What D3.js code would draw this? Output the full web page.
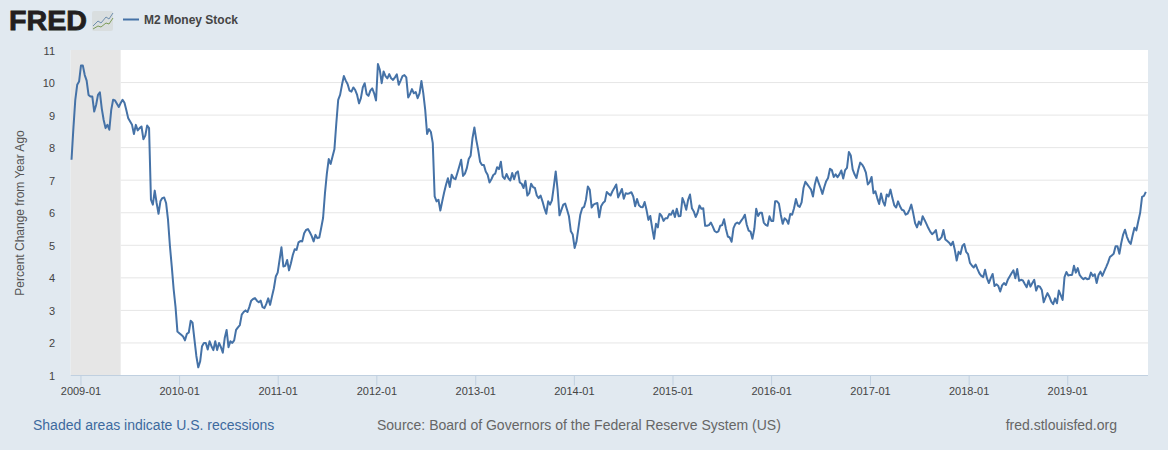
<!DOCTYPE html>
<html><head><meta charset="utf-8">
<script src="https://cdn.jsdelivr.net/npm/d3@7"></script>
<style>html,body{margin:0;padding:0;background:#e1e9f0}svg{display:block;font-family:"Liberation Sans",Arial,sans-serif}</style>
</head><body><svg id="c" width="1168" height="450"></svg>
<script>
const seriesName="M2 Money Stock";
const yTitle="Percent Change from Year Ago";
const yTicks=[1,2,3,4,5,6,7,8,9,10,11];
const xTickLabels=["2009-01","2010-01","2011-01","2012-01","2013-01","2014-01","2015-01","2016-01","2017-01","2018-01","2019-01"];
const recession=["2008-11-24","2009-05-28"];
const firstWeek="2008-11-27";
const weeksA=0, valuesA=[7.63,8.6,9.47,9.93,10.03,10.52,10.52,10.23,10.06,9.62,9.57,9.57,9.11,9.31,9.62,9.70,9.2,8.85,8.6,8.7,8.55,9.16,9.47,9.45,9.35,9.25,9.37,9.47,9.38,9.15,8.9,8.8,8.7,8.42,8.7,8.53,8.6,8.65,8.26,8.37,8.68,8.6,6.4,6.25,6.68,6.3,5.97,6.35,6.45,6.47,6.3,5.8];
const weeksB=52, valuesB=[5,4.35,3.65,3.1,2.35,2.3,2.25,2.2,2.08,2.28,2.32,2.68,2.62,2.1,1.6,1.25,1.43,1.9,2.0,2.0,1.8,2.05,1.9,1.78,2.05,1.78,2.0,1.87,1.7,2.15,2.4,1.87,2.05,2.0,2.08,2.4,2.48,2.55,2.87,2.95,3.0,2.95,3.1,3.3,3.35,3.38,3.3,3.25,3.3,3.1,3.07,3.2,3.37,3.17,3.43,3.68,4.04,4.16,4.55,4.94,4.35,4.37,4.55,4.23,4.45,4.7,4.88,4.86,5.09,5.13,5.12,5.37,5.47,5.5,5.4,5.28,5.12,5.32,5.22,5.24];
const weeksC=132, valuesC=[5.53,5.84,6.6,7.2,7.65,7.5,7.73,7.95,8.75,9.47,9.62,9.93,10.2,10.06,9.95,9.75,9.72,9.85,9.77,9.62,9.36,9.52,9.85,9.98,9.65,9.59,9.75,9.82,9.67,9.45,10.57,10.39,9.98,10.34,10.2,10.13,10.26,10.13,10.08,10.16,10.25,9.93,10.06,10.2,10.23,10.16,9.54,9.65,9.8,9.67,9.71,9.52,9.67,10.05,9.67,9.16,8.42,8.57,8.48,8.14,6.5,6.35,6.4,6.07,6.35,6.62,6.86,7.06,6.79,7.17,7.06,7.03,7.22,7.42,7.63,7.13,7.2,7.37,7.65,7.75,8.29,8.62,8.24,7.93,7.57,7.47,7.47,7.27,7.17,6.93,7.03,7.16,7.2,7.4,7.34,7.57,7.11,7.04,7.19,7.06,6.99,7.22,7.03,7.22,7.27,6.93,6.89,6.76,6.98,6.53,6.6,6.89,6.79,6.76,6.53,6.45,6.53,6.35,6.14,5.97,6.35,6.25,6.38,6.81,7.27,6.7,5.92,6.09,6.25,6.28,6.09,5.89,5.43,5.33,4.92,5.12,5.53,5.94];
const weeksD=270, valuesD=[6.14,6.18,6.4,6.81,6.71,6.16,6.25,6.28,6.3,5.86,6.2,6.3,6.35,6.64,6.58,6.53,6.66,6.76,6.87,6.47,6.6,6.73,6.43,6.6,6.58,6.6,6.63,6.5,6.2,6.42,6.23,6.18,6.17,6.33,6.09,5.78,5.9,5.53,5.2,5.66,5.55,5.97,5.9,5.75,5.83,5.83,5.96,5.94,6.07,5.87,6.12,5.89,5.9,6.45,6.3,6.09,6.4,6.56,6.14,6.04,5.87,6.0,6.22,6.12,6.14,5.6,5.6,5.62,5.7,5.58,5.44,5.4,5.43,5.6,5.62,5.8,5.5,5.27,5.24,5.11,5.53,5.66,5.7,5.66,5.75,5.83,5.94,5.63,5.45,5.42,5.2,5.5,6.12,5.9,6.0,6.0,5.7,5.63,5.6,5.89,5.75,5.75,6.35,6.35,6.28,5.94,5.66,5.83,5.78,5.66,5.96,5.94,6.14,6.42,6.22,6.18,6.32,6.76,6.95,6.87,6.79,6.71,6.5,6.87,7.09,6.92,6.76,6.58,6.79,6.97,7.07,7.35,7.31,7.1,7.18,7.09,7.18,7.3,7.05,7.31,7.38,7.87,7.76,7.33,7.18,7.07,7.33,7.54];
const weeksE=418, valuesE=[7.48,7.38,7.23,6.87,6.94,7.1,6.6,6.66,6.45,6.27,6.59,6.35,6.22,6.56,6.5,6.71,6.45,6.23,6.16,6.35,6.2,6.09,6.07,5.94,5.97,6.09,6.25,5.99,5.68,5.55,5.73,5.63,5.89,5.78,5.66,5.53,5.42,5.34,5.39,5.47,5.16,5.18,5.25,5.47,5.18,5.13,5.08,5,5.11,4.86,4.53,4.8,4.73,4.98,5.04,4.8,4.73,4.46,4.38,4.32,4.41];
const weeksF=479, valuesF=[4.27,4.14,4.06,4.02,4.25,3.99,3.84,3.99,4.12,3.75,3.8,3.75,3.58,3.77,3.84,3.78,3.94,4.04,4.14,4.23,3.99,4.27,3.91,3.94,3.92,3.81,3.71,3.92,3.73,3.84,3.94,3.61,3.75,3.73,3.63,3.25,3.4,3.53,3.42,3.27,3.19,3.37,3.22,3.61,3.47,3.32,4.02,4.18,4.07,4.09,4.09,4.37,4.16,4.3,4.09,4.01,3.96,4.0,3.96,3.97,4.16,4.06,4.11,3.84,4.09,4.19,4.06,4.2,4.33,4.47,4.64,4.69,4.74,4.97,4.97,4.74,5.07,5.33,5.48,5.26,5.12,5.04,5.3,5.54,5.46,5.74,6.0,6.49,6.52,6.64];

const parse=d3.utcParse("%Y-%m-%d"), parseM=d3.utcParse("%Y-%m");
const points=[];
[[weeksA,valuesA],[weeksB,valuesB],[weeksC,valuesC],[weeksD,valuesD],[weeksE,valuesE],[weeksF,valuesF]].forEach(([w,vals])=>{
  vals.forEach((v,i)=>points.push({d:d3.utcDay.offset(parse(firstWeek),7*(w+i)),v}));
});
const L=70.7,R=1148,T=50,B=375.5;
const x=d3.scaleUtc().domain([parse("2008-11-24"),parse("2019-10-25")]).range([L,R]);
const y=d3.scaleLinear().domain([1,11]).range([B,T]);
const svg=d3.select("#c");
svg.append("rect").attr("x",L).attr("y",T).attr("width",R-L).attr("height",B-T).attr("fill","#fff");
svg.append("rect").attr("x",x(parse(recession[0]))).attr("y",T).attr("height",B-T)
  .attr("width",x(parse(recession[1]))-x(parse(recession[0]))).attr("fill","#e6e6e6");
svg.append("g").selectAll("line").data(yTicks.filter(t=>t>1&&t<11)).join("line")
  .attr("x1",x(parse(recession[1]))).attr("x2",R).attr("y1",d=>y(d)).attr("y2",d=>y(d))
  .attr("stroke","#e6e6e6").attr("stroke-width",1);
svg.append("line").attr("x1",L).attr("x2",R).attr("y1",B).attr("y2",B).attr("stroke","#c0d0e0");
const xg=svg.append("g").selectAll("g").data(xTickLabels).join("g");
xg.append("line").attr("x1",d=>x(parseM(d))).attr("x2",d=>x(parseM(d))).attr("y1",B).attr("y2",B+10).attr("stroke","#c0d0e0");
xg.append("text").attr("x",d=>x(parseM(d))).attr("y",395).attr("text-anchor","middle")
  .attr("font-size",11).attr("fill","#444").text(d=>d);
svg.append("g").selectAll("text").data(yTicks).join("text")
  .attr("x",55).attr("y",d=>y(d)+4.5).attr("text-anchor","end").attr("font-size",11).attr("fill","#444").text(d=>d);
svg.append("text").attr("transform","translate(24,213) rotate(-90)").attr("text-anchor","middle")
  .attr("font-size",12).attr("fill","#555").text(yTitle);
svg.append("path").datum(points).attr("fill","none").attr("stroke","#4572a7").attr("stroke-width",2)
  .attr("stroke-linejoin","round").attr("d",d3.line().x(d=>x(d.d)).y(d=>y(d.v)));
// header
svg.append("text").attr("x",9).attr("y",30).attr("font-size",27).attr("font-weight",700).attr("fill","#231f20")
  .attr("stroke","#231f20").attr("stroke-width",0.8).attr("textLength",78).attr("lengthAdjust","spacingAndGlyphs").text("FRED");
svg.append("rect").attr("x",92).attr("y",11).attr("width",21).attr("height",20).attr("rx",2).attr("fill","#d9dedf");
svg.append("path").attr("d",d3.line().x(d=>d[0]).y(d=>d[1])([[93,26],[98,21],[101,23],[106,17],[109,19],[113,13]])).attr("fill","none").attr("stroke","#6f8fae").attr("stroke-width",1);
svg.append("path").attr("d",d3.line().x(d=>d[0]).y(d=>d[1])([[93,29],[98,26],[101,27],[106,23],[109,24],[113,18]])).attr("fill","none").attr("stroke","#7d9c5a").attr("stroke-width",1);
svg.append("line").attr("x1",123).attr("x2",139).attr("y1",19.5).attr("y2",19.5).attr("stroke","#4572a7").attr("stroke-width",2);
svg.append("text").attr("x",144).attr("y",24).attr("font-size",12).attr("font-weight",700).attr("fill","#444").attr("textLength",94).text(seriesName);
// footer
svg.append("text").attr("x",33).attr("y",430).attr("font-size",14).attr("fill","#3d6a9e").text("Shaded areas indicate U.S. recessions");
svg.append("text").attr("x",377).attr("y",430).attr("font-size",14).attr("fill","#666").text("Source: Board of Governors of the Federal Reserve System (US)");
svg.append("text").attr("x",1117).attr("y",430).attr("text-anchor","end").attr("font-size",14).attr("fill","#666").text("fred.stlouisfed.org");
</script></body></html>
